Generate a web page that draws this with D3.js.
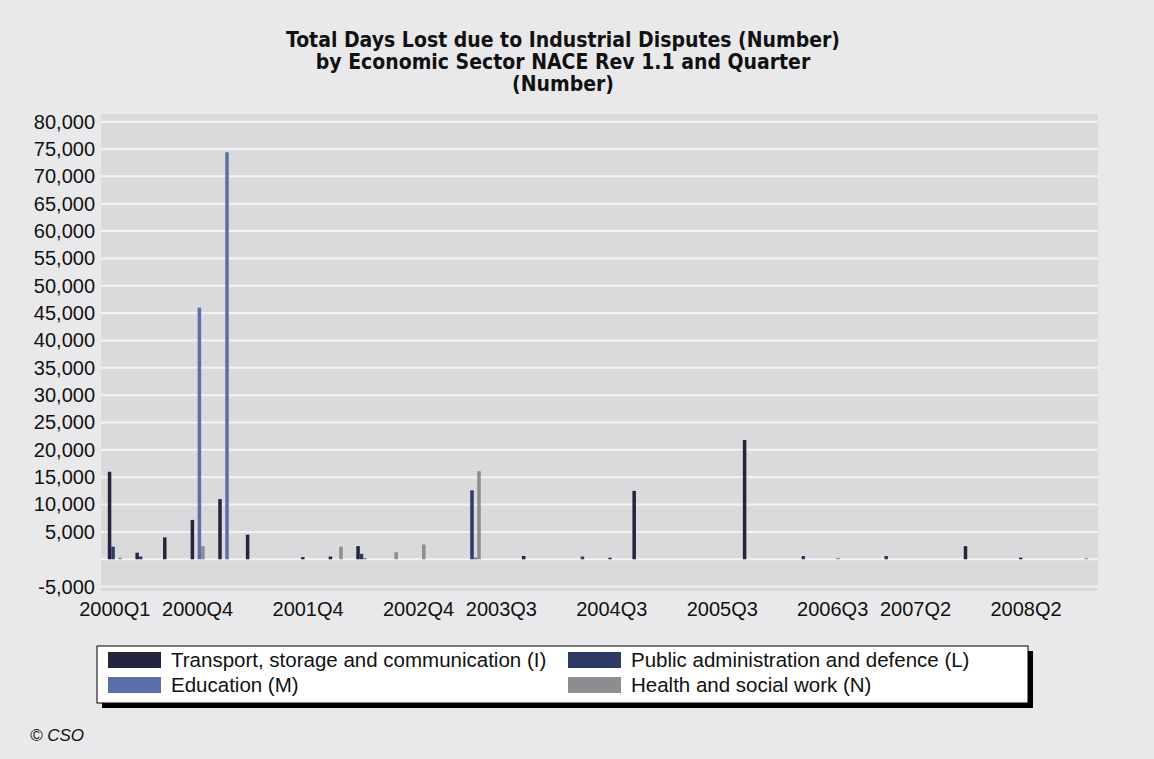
<!DOCTYPE html>
<html>
<head>
<meta charset="utf-8">
<script src="https://cdn.jsdelivr.net/npm/d3@7"></script>
<style>
  body { margin: 0; background: #e9e9eb; }
  svg { display: block; }
  text { font-family: "Liberation Sans", Arial, Helvetica, sans-serif; fill: #111; }
</style>
</head>
<body>
<svg id="chart" width="1154" height="759"></svg>
<script>
// Quarters on the category axis
const quarters = [
  "2000Q1","2000Q2","2000Q3","2000Q4","2001Q1","2001Q2","2001Q3","2001Q4",
  "2002Q1","2002Q2","2002Q3","2002Q4","2003Q1","2003Q2","2003Q3","2003Q4",
  "2004Q1","2004Q2","2004Q3","2004Q4","2005Q1","2005Q2","2005Q3","2005Q4",
  "2006Q1","2006Q2","2006Q3","2006Q4","2007Q1","2007Q2","2007Q3","2007Q4",
  "2008Q1","2008Q2","2008Q3","2008Q4"
];

// Days lost per quarter, by sector
const transport = [16000,1200,4000,7200,11000,4500,0,400,500,2400,0,0,0,0,0,600,0,0,0,12500,0,0,0,21800,0,0,0,0,0,0,0,2400,0,300,0,0];
const publicAdmin = [2300,500,0,0,0,0,0,0,0,1000,0,0,0,12600,0,0,0,500,300,0,0,0,0,0,0,600,0,0,600,0,0,0,0,0,0,0];
const education = [0,0,0,46000,74400,0,0,0,0,200,0,0,0,300,0,0,0,0,0,0,0,0,0,0,0,0,0,0,0,0,0,0,0,0,0,0];
const health = [300,0,0,2400,0,0,0,0,2300,0,1300,2700,0,16100,0,0,0,0,0,0,0,0,0,0,0,0,250,0,0,0,0,0,0,0,0,200];

const seriesNames = [
  "Transport, storage and communication (I)",
  "Public administration and defence (L)",
  "Education (M)",
  "Health and social work (N)"
];
const seriesValues = [transport, publicAdmin, education, health];
const seriesColors = ["#24243e", "#2d3b66", "#5b70a8", "#8d8d91"];

const yTickValues = [-5000,5000,10000,15000,20000,25000,30000,35000,40000,45000,50000,55000,60000,65000,70000,75000,80000];
const xTickLabels = ["2000Q1","2000Q4","2001Q4","2002Q4","2003Q3","2004Q3","2005Q3","2006Q3","2007Q2","2008Q2"];

const titleLines = [
  "Total Days Lost due to Industrial Disputes (Number)",
  "by Economic Sector NACE Rev 1.1 and Quarter",
  "(Number)"
];

const svg = d3.select("#chart");
const W = 1154, H = 759;
const plot = { left: 101, right: 1098, top: 114, bottom: 591 };

svg.append("rect").attr("width", W).attr("height", H).attr("fill", "#e9e9eb");

// Title
svg.append("g").selectAll("text").data(titleLines).join("text")
  .attr("x", 563)
  .attr("y", (d, i) => 47 + i * 22)
  .attr("text-anchor", "middle")
  .style("font-family", "'Liberation Sans Narrow', 'DejaVu Sans Condensed', Arial, sans-serif")
  .style("font-weight", "bold")
  .style("font-size", "21px")
  .text(d => d);

// Scales
const x0 = d3.scaleBand().domain(quarters).range([101, 1095]).padding(0);
const bw = x0.bandwidth();
const x1 = d3.scaleBand().domain(seriesNames).range([bw / 2 - 7, bw / 2 + 7]).padding(0);
const y = d3.scaleLinear().domain([-5800, 81400]).range([plot.bottom, plot.top]);

// Plot background
svg.append("rect")
  .attr("x", plot.left).attr("y", plot.top)
  .attr("width", plot.right - plot.left).attr("height", plot.bottom - plot.top)
  .attr("fill", "#dadadd");

// Horizontal gridlines every 5,000
const gridValues = d3.range(-5000, 80001, 5000);
svg.append("g").selectAll("line").data(gridValues).join("line")
  .attr("x1", plot.left).attr("x2", plot.right)
  .attr("y1", d => y(d)).attr("y2", d => y(d))
  .attr("stroke", "#f3f3f5").attr("stroke-width", 2);

// Bars
const groups = svg.append("g").selectAll("g").data(quarters).join("g")
  .attr("transform", q => `translate(${x0(q)},0)`);
groups.selectAll("rect")
  .data((q, qi) => seriesNames.map((s, si) => ({ s, si, v: seriesValues[si][qi] })).filter(d => d.v !== 0))
  .join("rect")
  .attr("x", d => x1(d.s))
  .attr("width", x1.bandwidth())
  .attr("y", d => y(Math.max(0, d.v)))
  .attr("height", d => Math.abs(y(d.v) - y(0)))
  .attr("fill", d => seriesColors[d.si]);

// Y axis (plain hyphen for negatives)
const fmt = d3.format(",");
const yAxis = svg.append("g")
  .attr("transform", `translate(${plot.left - 6},0)`)
  .call(d3.axisLeft(y).tickValues(yTickValues).tickFormat(d => fmt(d).replace("\u2212", "-")).tickSize(0).tickPadding(0));
yAxis.select(".domain").remove();
yAxis.selectAll("text").style("font-size", "20px").attr("fill", "#111");

// X axis
const xAxis = svg.append("g")
  .attr("transform", `translate(0,${plot.bottom})`)
  .call(d3.axisBottom(x0).tickValues(xTickLabels).tickSize(0).tickPadding(11));
xAxis.select(".domain").remove();
xAxis.selectAll("text").style("font-size", "20px").attr("fill", "#111");

// Legend
const lg = { x: 97, y: 646, w: 931, h: 57 };
svg.append("rect").attr("x", lg.x + 5).attr("y", lg.y + 5).attr("width", lg.w).attr("height", lg.h).attr("fill", "#000");
svg.append("rect").attr("x", lg.x).attr("y", lg.y).attr("width", lg.w).attr("height", lg.h)
  .attr("fill", "#fff").attr("stroke", "#000").attr("stroke-width", 1);
const legendItems = svg.append("g").selectAll("g").data(seriesNames).join("g")
  .attr("transform", (d, i) => `translate(${lg.x + 11 + (i % 2) * 460},${lg.y + 6 + Math.floor(i / 2) * 25})`);
legendItems.append("rect").attr("width", 53).attr("height", 16).attr("fill", (d, i) => seriesColors[i]);
legendItems.append("text").attr("x", 63).attr("y", 15).style("font-size", "20.5px").text(d => d);

// Source note
svg.append("text").attr("x", 30).attr("y", 741)
  .style("font-size", "17px").style("font-style", "italic")
  .text("\u00A9 CSO");
</script>
</body>
</html>
